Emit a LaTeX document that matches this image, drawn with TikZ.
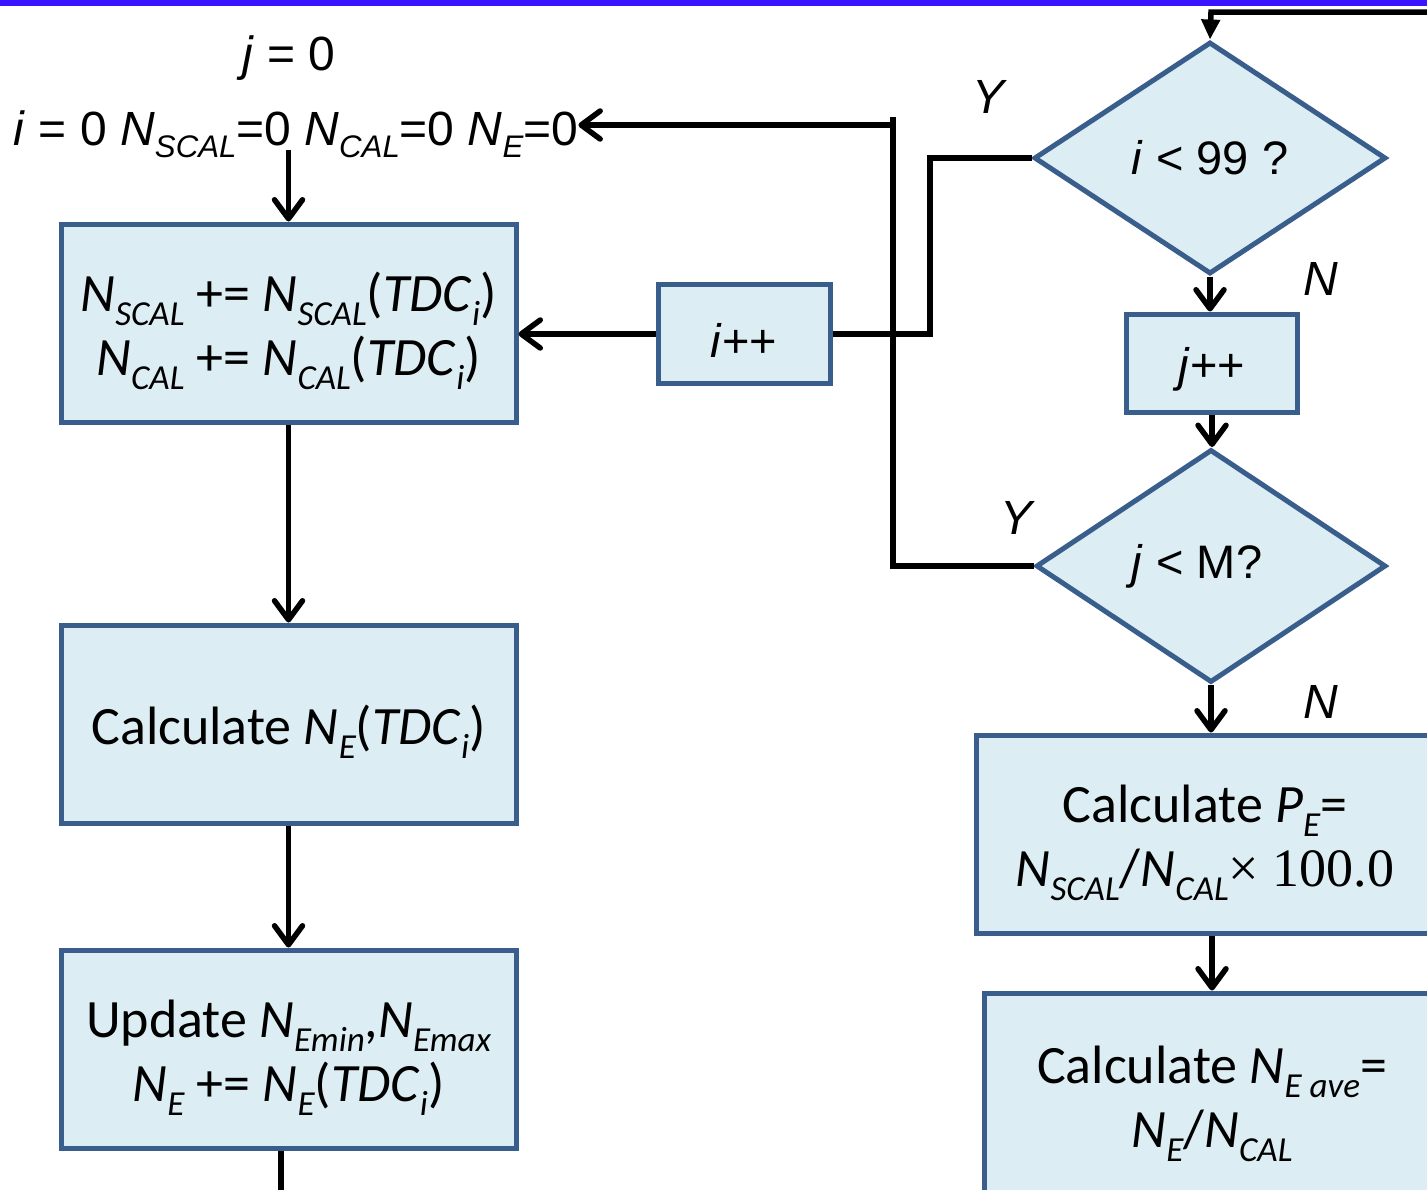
\documentclass[tikz,border=0pt]{standalone}
\usepackage{fontspec}
\setmainfont{Carlito}
\newfontfamily\ar{Liberation Sans}
\newfontfamily\srf{Liberation Serif}
\usetikzlibrary{arrows.meta,shapes.geometric}
\newcommand\sbx[1]{\raisebox{-0.25em}{\scalebox{0.65}{\itshape #1}}}
\newcommand\tup{\rule{0pt}{55pt}}
\definecolor{boxfill}{RGB}{220,238,244}
\definecolor{boxline}{RGB}{58,94,140}
\definecolor{barblue}{RGB}{58,20,255}
\begin{document}
\begin{tikzpicture}[x=1pt,y=-1pt,
  box/.style={draw=boxline, fill=boxfill, line width=5pt, align=center, inner sep=0pt,
    font=\fontsize{54}{64}\selectfont, text=black},
  dia/.style={diamond, draw=boxline, fill=boxfill, line width=5pt, inner sep=0pt,
    font=\ar\fontsize{47}{56}\selectfont},
  smallbox/.style={box, font=\ar\fontsize{47}{56}\selectfont},
  lab/.style={font=\ar\fontsize{48}{56}\selectfont, inner sep=0pt},
  conn/.style={line width=5.5pt, draw=black},
  arr/.style={conn, -{Straight Barb[length=19pt,width=28pt,round]}},
]
\useasboundingbox (0,0) rectangle (1427,1189);
\clip (0,0) rectangle (1427,1189);
\fill[barblue] (0,0) rectangle (1427,6);

% left column
\node[lab, anchor=base] (j0) at (289,70) {\textit{j} = 0};
\node[lab, anchor=base] (init) at (296,145)
  {\textit{i} = 0 \textit{N}\sbx{SCAL}=0 \textit{N}\sbx{CAL}=0 \textit{N}\sbx{E}=0};
\node[box, minimum width=455, minimum height=198] (box1) at (288.5,323)
  {\tup\textit{N}\sbx{SCAL} += \textit{N}\sbx{SCAL}(\textit{TDC}\sbx{i})\\
   \textit{N}\sbx{CAL} += \textit{N}\sbx{CAL}(\textit{TDC}\sbx{i})};
\node[box, minimum width=455, minimum height=198] (box2) at (288.5,724)
  {\tup Calculate \textit{N}\sbx{E}(\textit{TDC}\sbx{i})};
\node[box, minimum width=455, minimum height=198] (box3) at (288.5,1049)
  {\tup Update \textit{N}\sbx{Emin},\textit{N}\sbx{Emax}\\
   \textit{N}\sbx{E} += \textit{N}\sbx{E}(\textit{TDC}\sbx{i})};
\node[smallbox, minimum width=172, minimum height=99] (ipp) at (744,334)
  {\rule{0pt}{46pt}\textit{i}++};

% right column
\node[dia, minimum width=352, minimum height=232] (d1) at (1210,158) {\textit{i} < 99 ?};
\node[smallbox, minimum width=171, minimum height=98] (jpp) at (1212,363)
  {\rule{0pt}{46pt}\textit{j}++};
\node[dia, minimum width=350, minimum height=233] (d2) at (1211,566) {\textit{j} < M?\kern28pt};
\node[box, minimum width=458, minimum height=198] (pe) at (1205,834)
  {\tup Calculate \textit{P}\sbx{E}=\\
   \textit{N}\sbx{SCAL}/\textit{N}\sbx{CAL}{\srf × 100.0}};
\node[box, minimum width=456, minimum height=204] (neave) at (1212,1095)
  {\tup Calculate \textit{N}\sbx{E ave}=\\
   \textit{N}\sbx{E}/\textit{N}\sbx{CAL}};

% labels
\node[lab] (y1) at (990,97) {\textit{Y}};
\node[lab] (y2) at (1018,518) {\textit{Y}};
\node[lab] (n1) at (1321,279) {\textit{N}};
\node[lab] (n2) at (1321,702) {\textit{N}};

% connectors
\draw[arr] (box1.north |- 0,150) -- (box1.north);
\draw[arr] (box1.south) -- (box2.north);
\draw[arr] (box2.south) -- (box3.north);
\coordinate (b3out) at (281,1200);
\draw[conn] (box3.south -| b3out) -- (b3out);

\coordinate (topin) at (1440,12);
\coordinate (topc) at (1211,12);
\draw[conn, -{Triangle[length=20pt,width=18pt]}] (topin) -- (topc) -- (d1.north);

\coordinate (yi) at (930,158);
\draw[conn] (d1.west) -- (yi) |- (ipp.east);
\draw[arr] (ipp.west) -- (ipp.west -| box1.east);

\coordinate (jl) at (893,117);
\coordinate (ret) at (893,125);
\draw[conn] (d2.west) -| (jl);
\draw[arr] (ret) -- (ret -| init.east);

\draw[arr] (d1.south) -- (d1.south |- jpp.north);
\draw[arr] (jpp.south) -- (jpp.south |- d2.north);
\draw[arr] (d2.south) -- (d2.south |- pe.north);
\draw[arr] (neave.north |- pe.south) -- (neave.north);
\end{tikzpicture}
\end{document}
